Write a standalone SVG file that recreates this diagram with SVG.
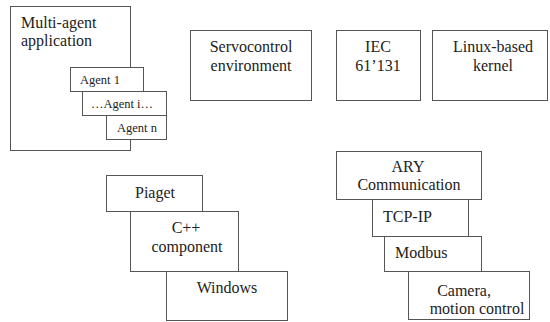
<svg xmlns="http://www.w3.org/2000/svg" width="550" height="322" viewBox="0 0 550 322">
<style>
rect{fill:#fff;stroke:#555;stroke-width:1}
text{font-family:'Liberation Serif','Times New Roman',serif;font-size:16px;fill:#222;text-anchor:middle}
.s{font-size:12.5px}
.l{text-anchor:start}
</style>
<rect x="0" y="0" width="550" height="322" style="stroke:none"/>
<g id="multi-agent">
<rect x="10.5" y="6.5" width="120" height="144"/>
<text class="l" x="21" y="28">Multi-agent</text>
<text class="l" x="21" y="46">application</text>
</g>
<g id="agent1">
<rect x="70.5" y="67.5" width="73" height="24"/>
<text class="s" x="100" y="84">Agent 1</text>
</g>
<g id="agenti">
<rect x="82.5" y="91.5" width="84" height="24"/>
<text class="s" x="122" y="108">…Agent i…</text>
</g>
<g id="agentn">
<rect x="106.5" y="115.5" width="60" height="24"/>
<text class="s" x="137" y="132">Agent n</text>
</g>
<g id="servo">
<rect x="190.5" y="30.5" width="121" height="70"/>
<text x="251" y="52">Servocontrol</text>
<text x="251" y="71">environment</text>
</g>
<g id="iec">
<rect x="336.5" y="30.5" width="84" height="70"/>
<text x="378" y="52">IEC</text>
<text x="378" y="71">61’131</text>
</g>
<g id="linux">
<rect x="432.5" y="30.5" width="115" height="70"/>
<text x="493" y="52">Linux-based</text>
<text x="493" y="71">kernel</text>
</g>
<g id="piaget">
<rect x="106.5" y="175.5" width="96" height="36"/>
<text x="155" y="198">Piaget</text>
</g>
<g id="cpp">
<rect x="130.5" y="211.5" width="108" height="60"/>
<text x="186" y="233">C++</text>
<text x="187" y="252">component</text>
</g>
<g id="windows">
<rect x="166.5" y="271.5" width="121" height="49"/>
<text x="227" y="293">Windows</text>
</g>
<g id="ary">
<rect x="336.5" y="151.5" width="145" height="48"/>
<text x="408" y="172">ARY</text>
<text x="409" y="190">Communication</text>
</g>
<g id="tcp">
<rect x="372.5" y="199.5" width="96" height="37"/>
<text class="l" x="383" y="222">TCP-IP</text>
</g>
<g id="modbus">
<rect x="384.5" y="236.5" width="97" height="35"/>
<text class="l" x="395" y="258">Modbus</text>
</g>
<g id="camera">
<rect x="408.5" y="271.5" width="121" height="48"/>
<text x="464" y="296">Camera,</text>
<text x="477" y="314">motion control</text>
</g>
<g id="connectors"></g>
</svg>
